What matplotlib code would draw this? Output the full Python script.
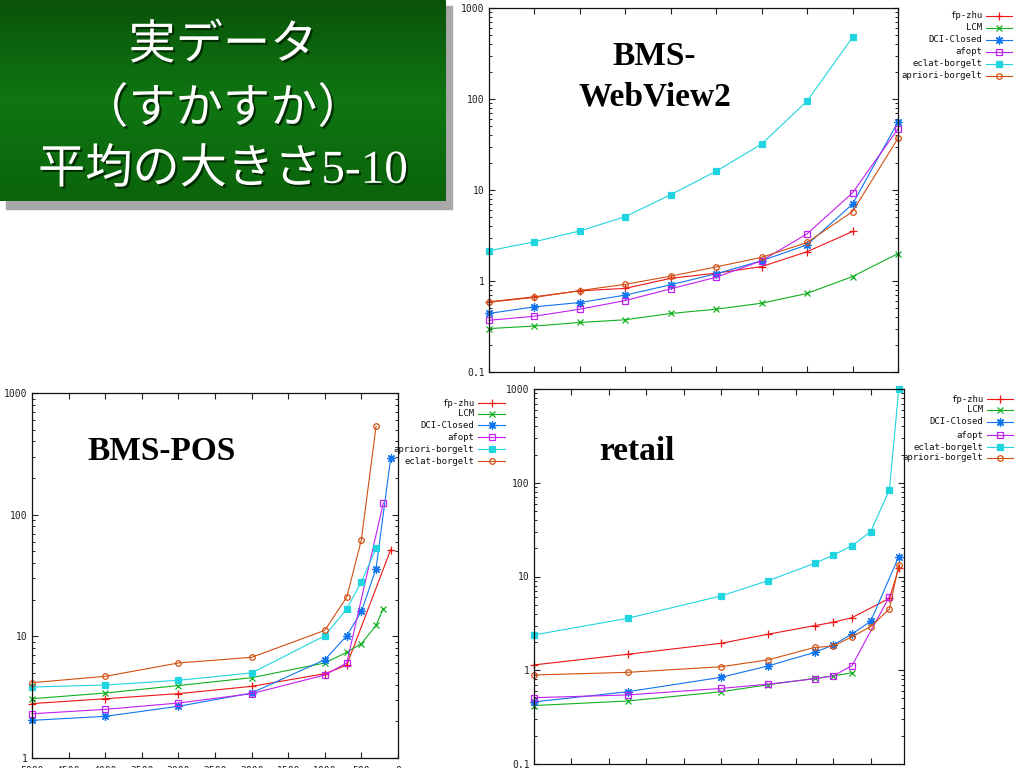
import numpy as np
import matplotlib.pyplot as plt
import matplotlib.patheffects as pe
from matplotlib.lines import Line2D
from matplotlib.patches import Rectangle
from matplotlib.colors import LinearSegmentedColormap
from matplotlib.ticker import LogLocator, NullFormatter, FixedLocator

W, H = 1024, 768

# === Data: BMS-WebView2 (x = tick index) ===
wv2_names = ["fp-zhu", "LCM", "DCI-Closed", "afopt", "eclat-borgelt", "apriori-borgelt"]
wv2_x_short = [0, 1, 2, 3, 4, 5, 6, 7, 8]
wv2_x_full = [0, 1, 2, 3, 4, 5, 6, 7, 8, 9]
wv2_fpzhu = [0.59, 0.67, 0.78, 0.83, 1.07, 1.22, 1.44, 2.1, 3.5]
wv2_lcm = [0.30, 0.32, 0.35, 0.375, 0.44, 0.49, 0.57, 0.73, 1.12, 2.0]
wv2_dci = [0.44, 0.52, 0.58, 0.70, 0.91, 1.2, 1.67, 2.5, 7.0, 56]
wv2_afopt = [0.37, 0.41, 0.49, 0.61, 0.82, 1.1, 1.67, 3.3, 9.3, 47]
wv2_eclat = [2.15, 2.7, 3.55, 5.1, 8.9, 16.1, 32, 95, 477]
wv2_apriori = [0.585, 0.66, 0.785, 0.92, 1.13, 1.43, 1.82, 2.65, 5.8, 37]

# === Data: BMS-POS (x = minimum support) ===
pos_names = ["fp-zhu", "LCM", "DCI-Closed", "afopt", "apriori-borgelt", "eclat-borgelt"]
pos_ticks = [5000, 4500, 4000, 3500, 3000, 2500, 2000, 1500, 1000, 500, 0]
pos_x_fpzhu = [5000, 4000, 3000, 2000, 1000, 700, 100]
pos_fpzhu = [2.8, 3.07, 3.38, 3.88, 4.93, 5.8, 51.5]
pos_x_lcm = [5000, 4000, 3000, 2000, 1000, 700, 500, 300, 200]
pos_lcm = [3.07, 3.42, 3.94, 4.57, 6.04, 7.4, 8.7, 12.3, 16.9]
pos_x_dci = [5000, 4000, 3000, 2000, 1000, 700, 500, 300, 100]
pos_dci = [2.04, 2.2, 2.66, 3.42, 6.43, 10.1, 16.0, 36, 292]
pos_x_afopt = [5000, 4000, 3000, 2000, 1000, 700, 200]
pos_afopt = [2.31, 2.51, 2.83, 3.38, 4.81, 6.04, 125]
pos_x_apriori = [5000, 4000, 3000, 2000, 1000, 700, 500, 300]
pos_apriori = [3.83, 3.98, 4.35, 5.0, 10.1, 16.8, 28.1, 52.8]
pos_x_eclat = [5000, 4000, 3000, 2000, 1000, 700, 500, 300]
pos_eclat = [4.16, 4.69, 6.04, 6.72, 11.2, 21.0, 62.4, 532]

# === Data: retail (x = tick index) ===
ret_names = ["fp-zhu", "LCM", "DCI-Closed", "afopt", "eclat-borgelt", "apriori-borgelt"]
ret_x_fpzhu = [0, 2.5, 5, 6.25, 7.5, 8, 8.5, 9.5, 9.75]
ret_fpzhu = [1.14, 1.48, 1.94, 2.42, 2.99, 3.25, 3.64, 5.85, 12.2]
ret_x_lcm = [0, 2.5, 5, 6.25, 7.5, 8, 8.5]
ret_lcm = [0.42, 0.47, 0.59, 0.70, 0.82, 0.87, 0.94]
ret_x_dci = [0, 2.5, 5, 6.25, 7.5, 8, 8.5, 9, 9.75]
ret_dci = [0.46, 0.59, 0.84, 1.11, 1.55, 1.86, 2.44, 3.33, 16.3]
ret_x_afopt = [0, 2.5, 5, 6.25, 7.5, 8, 8.5, 9.5]
ret_afopt = [0.51, 0.545, 0.64, 0.71, 0.81, 0.87, 1.12, 6.1]
ret_x_eclat = [0, 2.5, 5, 6.25, 7.5, 8, 8.5, 9, 9.5, 9.75]
ret_eclat = [2.38, 3.58, 6.2, 9.0, 13.8, 16.9, 21.3, 30.1, 84, 1000]
ret_x_apriori = [0, 2.5, 5, 6.25, 7.5, 8, 8.5, 9, 9.5, 9.75]
ret_apriori = [0.89, 0.95, 1.09, 1.29, 1.75, 1.81, 2.28, 2.92, 4.5, 13.3]

# gnuplot-like styles by series position: colour, marker, size, filled
styles = [
    ("#ee1515", "+", 6, True),
    ("#10b020", "x", 5, True),
    ("#1075ee", (8, 2, 0), 6, True),
    ("#c020f0", "s", 5, False),
    ("#20d4e0", "s", 5, True),
    ("#d05010", "o", 4, False),
]

MONO = "DejaVu Sans Mono"


def fx(px):
    return px / W


def fy(py):
    return 1 - py / H


def make_axes(left, top, right, bottom):
    return fig.add_axes([fx(left), fy(bottom), (right - left) / W, (bottom - top) / H])


def plot_series(ax, i, x, y):
    c, m, ms, filled = styles[i]
    ax.plot(x, y, color=c, lw=0.8, marker=m, ms=ms, mew=0.9,
            mfc=c if filled else "none", mec=c, clip_on=False)


def style_axes(ax, ylo, yhi):
    ax.set_yscale("log")
    ax.set_ylim(ylo, yhi)
    ax.yaxis.set_minor_locator(LogLocator(base=10, subs=np.arange(2, 10)))
    ax.yaxis.set_minor_formatter(NullFormatter())
    exps = range(int(np.log10(ylo)), int(np.log10(yhi)) + 1)
    ax.set_yticks([10.0 ** k for k in exps])
    ax.set_yticklabels(["%g" % (10.0 ** k) for k in exps])
    ax.tick_params(which="both", direction="in", top=True, right=True,
                   labelsize=7, colors="#222222", pad=3)
    ax.tick_params(which="major", length=4.5, width=0.8)
    ax.tick_params(which="minor", length=2.2, width=0.7)
    for lab in ax.get_yticklabels() + ax.get_xticklabels():
        lab.set_family(MONO)
    for s in ax.spines.values():
        s.set_linewidth(0.9)
        s.set_color("#111111")


def draw_legend(names, text_right, x0, x1, ys):
    for i, (name, y) in enumerate(zip(names, ys)):
        c, m, ms, filled = styles[i]
        fig.text(fx(text_right), fy(y), name, ha="right", va="center",
                 family=MONO, fontsize=6.5, color="#111111")
        fig.add_artist(Line2D([fx(x0), fx(x1)], [fy(y), fy(y)], color=c, lw=0.8))
        fig.add_artist(Line2D([fx((x0 + x1) / 2)], [fy(y)], color=c, lw=0, marker=m,
                              ms=ms, mew=0.9, mfc=c if filled else "none", mec=c))


fig = plt.figure(figsize=(10.24, 7.68), dpi=100)
fig.patch.set_facecolor("white")

# === Title box ===
fig.add_artist(Rectangle((fx(6), fy(209)), fx(446), 203 / H, color="#a8a8a8", zorder=-2))
ax_box = make_axes(0, 0, 446, 201)
green = LinearSegmentedColormap.from_list("g", ["#0a540a", "#0f7612", "#0b640b"])
ax_box.imshow(np.linspace(0, 1, 100).reshape(-1, 1), aspect="auto", cmap=green,
              extent=[0, 1, 0, 1])
ax_box.axis("off")
title_fx = [pe.SimplePatchShadow(offset=(1.5, -1.5), shadow_rgbFace="#002800", alpha=0.9), pe.Normal()]
for txt, y in [("実データ", 47), ("（すかすか）", 110), ("平均の大きさ5-10", 171)]:
    fig.text(fx(223), fy(y), txt, ha="center", va="center", color="white", fontsize=34,
             family=["Liberation Serif", "Noto Sans CJK JP"], path_effects=title_fx, zorder=5)

# === BMS-WebView2 ===
ax1 = make_axes(489, 8, 898, 372)
plot_series(ax1, 0, wv2_x_short, wv2_fpzhu)
plot_series(ax1, 1, wv2_x_full, wv2_lcm)
plot_series(ax1, 2, wv2_x_full, wv2_dci)
plot_series(ax1, 3, wv2_x_full, wv2_afopt)
plot_series(ax1, 4, wv2_x_short, wv2_eclat)
plot_series(ax1, 5, wv2_x_full, wv2_apriori)
ax1.set_xlim(0, 9)
ax1.xaxis.set_major_locator(FixedLocator(wv2_x_full))
ax1.set_xticklabels([])
style_axes(ax1, 0.1, 1000)
ax1.text(0.405, 0.81, "BMS-\nWebView2", transform=ax1.transAxes, ha="center", va="center",
         family="Liberation Serif", weight="bold", fontsize=24, linespacing=1.4)
draw_legend(wv2_names, 982, 986, 1012, [16, 28, 40, 52, 64, 76])

# === BMS-POS ===
ax2 = make_axes(32, 393, 398, 758)
plot_series(ax2, 0, pos_x_fpzhu, pos_fpzhu)
plot_series(ax2, 1, pos_x_lcm, pos_lcm)
plot_series(ax2, 2, pos_x_dci, pos_dci)
plot_series(ax2, 3, pos_x_afopt, pos_afopt)
plot_series(ax2, 4, pos_x_apriori, pos_apriori)
plot_series(ax2, 5, pos_x_eclat, pos_eclat)
ax2.set_xlim(5000, 0)
ax2.set_xticks(pos_ticks)
ax2.set_xticklabels([str(t) for t in pos_ticks])
style_axes(ax2, 1, 1000)
ax2.tick_params(axis="x", pad=5.5)
ax2.text(0.354, 0.84, "BMS-POS", transform=ax2.transAxes, ha="center", va="center",
         family="Liberation Serif", weight="bold", fontsize=24)
draw_legend(pos_names, 474, 478, 505, [403, 414, 425, 437, 449, 461])

# === retail ===
ax3 = make_axes(534, 389, 904, 764)
plot_series(ax3, 0, ret_x_fpzhu, ret_fpzhu)
plot_series(ax3, 1, ret_x_lcm, ret_lcm)
plot_series(ax3, 2, ret_x_dci, ret_dci)
plot_series(ax3, 3, ret_x_afopt, ret_afopt)
plot_series(ax3, 4, ret_x_eclat, ret_eclat)
plot_series(ax3, 5, ret_x_apriori, ret_apriori)
ax3.set_xlim(0, 9.89)
ax3.xaxis.set_major_locator(FixedLocator(range(10)))
ax3.set_xticklabels([])
style_axes(ax3, 0.1, 1000)
ax3.text(0.277, 0.833, "retail", transform=ax3.transAxes, ha="center", va="center",
         family="Liberation Serif", weight="bold", fontsize=24)
draw_legend(ret_names, 983, 987, 1013, [399, 410, 422, 435, 447, 458])

fig.savefig("out.png", dpi=100)
